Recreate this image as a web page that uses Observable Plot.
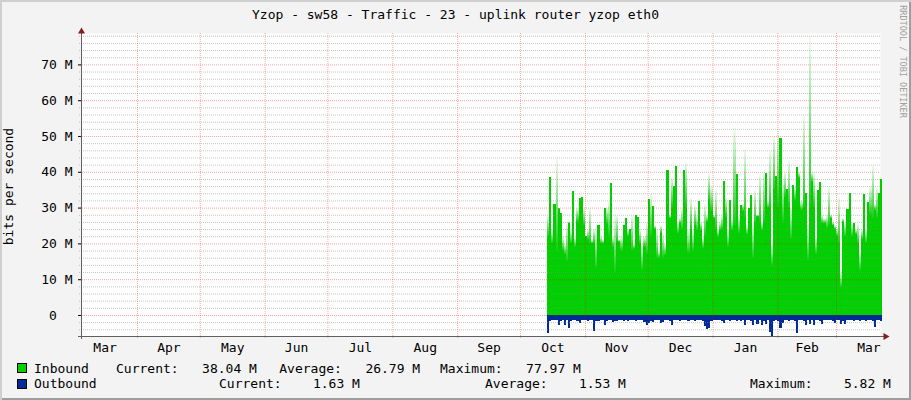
<!DOCTYPE html>
<html><head><meta charset="utf-8">
<script src="https://cdn.jsdelivr.net/npm/d3@7"></script>
<script src="https://cdn.jsdelivr.net/npm/@observablehq/plot@0.6"></script>
<style>
html,body{margin:0;padding:0;background:#fff}
#wrap{position:relative;width:911px;height:400px;background:#f3f3f3;box-shadow:inset 2px 2px 0 #cfcfcf, inset -2px -2px 0 #9e9e9e;font-family:"DejaVu Sans Mono",monospace;font-size:13px;color:#000;overflow:hidden}
.t{position:absolute;white-space:pre;line-height:13px;height:13px}
.box{position:absolute;width:8px;height:8px;border:1px solid #000}
#plot{position:absolute;left:0;top:0}
</style></head><body><div id="wrap"><div id="plot"></div></div>
<script>
// ---- data (Mbit/s), one value per day starting 2008-10-14 ----
const startDay = "2008-10-14";
const inboundSolid = [
22,38.6,20,31,18,29.7,28.5,18,17,15,
25.7,20,34.5,19,26,32.7,33,25,22,21,
20,20,20,13,25,20,20,30,25.5,22,
37,19,12,20.5,20.5,18,25,27,22,24,
18,18.5,27.8,27.5,20,12.6,19,17,32.4,22,
30.5,24,16,16,22.8,16,16.7,40.5,27,30,
35.9,41.6,22.8,25.6,24,40.6,30,17.4,23.7,18,
25,23.7,31.8,23.7,18.6,22,26,32,29,27,
24,21.9,23.7,24,37.5,27.5,19,32,23.7,25,
39.3,22.8,30.6,29,27,22.5,30,33.4,16,25.6,
27.5,26,23.7,26,39.7,30,30,14,34.9,38.8,
30,49.4,26.1,33,35.2,30,21.2,36.3,32,41.4,
38.2,29.3,30,34.1,15.4,30,37.2,30,17,34.9,
37.1,25.6,25.6,24.3,25,27,25,24,22,20,
7.8,26,22,29.7,34,22,25.6,22.6,20,12.4,
21.1,33.8,20.2,31.6,28,27,29.3,27,34,38.04];
const inboundPeak = [
28,38.6,24,31,44,30,28.5,22,20,26,
26,24,34.5,22,30,32.7,33,30,22,24,
30,21,24,24,25,22,21,30,30,32,
37,22,28,28,21,22,25,27,24,24,
28,20,27.8,27.5,24,20,22,26,32.4,34,
30.5,25,24,18,25,23,20,40.5,28,38.6,
35.9,41.6,26,27,30,40.6,42.7,24,32.7,24,
30.6,28,31.8,26,22,31,28,39.5,36,28,
35,24,26,28,37.5,33,24,32,27,52.1,
39.3,28,30.6,31,46.5,25,30,33.4,26,35,
28,39.5,26,40.4,39.7,32,46,20,49.8,38.8,
50.7,49.4,38,40,35.2,43.3,30,36.3,36,41.4,
40,32,55.9,34.1,25,77.97,40,40,22,34.9,
37.1,28,27,28,36,28,26,25,24,33,
12,27,26,29.7,34,26,25.6,24,25.6,18,
24,33.8,24,31.6,36,42,31,35.8,34,38.04];
const outbound = [
5.1,1.8,1.4,1.3,1.5,2.8,1.6,1.4,2.8,1.5,
3.7,1.6,1.4,1.3,1.6,2.2,1.5,1.3,1.4,1.8,
1.4,1.3,4.5,1.8,1.6,1.3,1.4,2.8,1.6,1.3,
1.5,1.9,1.8,1.6,1.3,1.4,1.7,1.5,1.6,1.4,
1.5,1.3,1.6,1.4,1.3,1.5,1.9,2.8,2.1,1.6,
2.0,1.4,1.5,1.3,2.3,2.0,1.4,1.5,1.6,2.8,
1.5,1.4,1.5,1.6,1.3,1.5,1.4,1.6,1.5,1.4,
1.6,1.4,1.5,1.3,1.7,3.2,4.0,3.6,1.6,1.4,
1.5,1.5,1.4,1.6,2.3,1.5,1.4,1.6,1.3,1.5,
1.6,1.4,1.7,1.5,2.8,1.5,1.4,1.6,2.8,1.5,
2.6,1.5,2.8,1.6,2.4,1.5,4.7,5.82,1.6,1.5,
1.6,3.7,2.3,1.5,1.4,1.6,1.5,1.4,1.6,5.1,
1.5,1.4,1.6,2.8,1.5,2.6,1.4,2.8,1.5,1.4,
1.6,2.6,1.5,1.4,1.5,1.4,1.6,2.3,1.5,1.4,
2.6,1.6,2.6,1.5,1.4,1.5,1.6,1.4,1.5,1.6,
1.4,1.5,1.6,1.5,1.4,1.6,3.3,1.5,1.4,1.63];

const monthLabels = ["Mar","Apr","May","Jun","Jul","Aug","Sep","Oct","Nov","Dec","Jan","Feb","Mar"];
const yTickValues = [0,10,20,30,40,50,60,70];
const yTickLabels = ["0\u00a0\u00a0","10 M","20 M","30 M","40 M","50 M","60 M","70 M"];

const legendRows = [
  {name:"Inbound", color:"#00cf00", cur:"Current:   38.04 M", avg:"Average:   26.79 M", max:"Maximum:   77.97 M"},
  {name:"Outbound", color:"#002a97", cur:"Current:    1.63 M", avg:"Average:    1.53 M", max:"Maximum:    5.82 M"}
];

// ---- build table ----
const M = 1e6;
const d0 = new Date(startDay + "T00:00:00Z");
const table = inboundSolid.map((v, i) => ({
  x1: d3.utcDay.offset(d0, i),
  x2: d3.utcDay.offset(d0, i + 1),
  inS: v * M,
  inP: Math.max(v, inboundPeak[i]) * M,
  out: -outbound[i] * M
}));

const xDomain = [new Date(Date.UTC(2008,2,5,6)), new Date(Date.UTC(2009,2,22,0,30))];
const yDomain = [-5.87 * M, 78.77 * M];

const monthStarts = d3.utcMonth.range(new Date(Date.UTC(2008,2,1)), new Date(Date.UTC(2009,3,1)));
const midDates = monthStarts.map(m => new Date((+m + +d3.utcMonth.offset(m, 1)) / 2));
const gridMonths = monthStarts.filter(m => m > xDomain[0] && m < xDomain[1]);
const majorGrid = yTickValues.map(v => v * M);
const minorGrid = d3.range(-4, 79, 2).filter(v => v % 10 !== 0).map(v => v * M);

const svg = Plot.plot({
  width: 911, height: 360,
  marginLeft: 81, marginRight: 31, marginTop: 33, marginBottom: 24,
  style: {background: "transparent", overflow: "visible", fontFamily: "'DejaVu Sans Mono', monospace", fontSize: "13px", color: "#000"},
  x: {type: "utc", domain: xDomain, ticks: midDates,
      tickFormat: d => monthLabels[midDates.findIndex(m => +m === +d)],
      tickSize: 0, tickPadding: 6, label: null},
  y: {domain: yDomain, ticks: majorGrid,
      tickFormat: d => yTickLabels[yTickValues.indexOf(Math.round(d / M))],
      tickSize: 3, tickPadding: 6, label: null},
  marks: [
    Plot.frame({fill: "white", stroke: "none"}),
    Plot.rect(table, {x1: "x1", x2: "x2", y1: 0, y2: "inS", fill: "#00cf00", shapeRendering: "crispEdges"}),
    Plot.rect(table, {x1: "x1", x2: "x2", y1: "inS", y2: "inP", fill: "url(#fadeG)", shapeRendering: "crispEdges"}),
    Plot.rect(table, {x1: "x1", x2: "x2", y1: 0, y2: "out", fill: "#002a97", shapeRendering: "crispEdges"}),
    Plot.ruleY(minorGrid, {stroke: "#8c8c8c", strokeOpacity: 0.5, strokeDasharray: "1,1", insetLeft: -2}),
    Plot.ruleY(majorGrid, {stroke: "#ff0000", strokeOpacity: 0.35, strokeDasharray: "1,1", insetLeft: -3}),
    Plot.ruleX(gridMonths, {stroke: "#ff0000", strokeOpacity: 0.35, strokeDasharray: "1,1", insetBottom: -3}),
    Plot.ruleX([xDomain[0]], {stroke: "#606060", insetTop: -3, insetBottom: -3}),
    Plot.ruleY([yDomain[0]], {stroke: "#606060", insetLeft: -3, insetRight: -4}),
    Plot.dot([{x: xDomain[0], y: yDomain[1]}], {x: "x", y: "y", symbol: "triangle", r: 2.6, fill: "#7f1f1f", stroke: "none", dy: -2}),
    Plot.dot([{x: xDomain[1], y: yDomain[0]}], {x: "x", y: "y", symbol: "triangle", r: 2.6, fill: "#7f1f1f", stroke: "none", rotate: 90, dx: 5})
  ]
});

// gradient for the anti-aliased spike tops
const NS = "http://www.w3.org/2000/svg";
const defs = document.createElementNS(NS, "defs");
const lg = document.createElementNS(NS, "linearGradient");
lg.setAttribute("id", "fadeG");
lg.setAttribute("x1", "0"); lg.setAttribute("y1", "0"); lg.setAttribute("x2", "0"); lg.setAttribute("y2", "1");
[["0", "#f4fcf4"], ["0.45", "#8fe48f"], ["1", "#10d010"]].forEach(([o, c]) => {
  const s = document.createElementNS(NS, "stop");
  s.setAttribute("offset", o); s.setAttribute("stop-color", c);
  lg.appendChild(s);
});
defs.appendChild(lg);
svg.insertBefore(defs, svg.firstChild);
document.getElementById("plot").appendChild(svg);

// ---- title, labels, legend ----
const wrap = document.getElementById("wrap");
function addText(txt, css) {
  const d = document.createElement("div");
  d.className = "t";
  d.textContent = txt;
  Object.assign(d.style, css);
  wrap.appendChild(d);
  return d;
}
addText("Yzop - sw58 - Traffic - 23 - uplink router yzop eth0", {left: "0px", width: "911px", top: "7.7px", textAlign: "center"});
addText("bits per second", {left: "-92px", width: "200px", top: "179.5px", textAlign: "center", transform: "rotate(-90deg)"});
addText("RRDTOOL / TOBI OETIKER", {left: "842.5px", width: "120px", top: "60.75px", fontSize: "8.5px", lineHeight: "8.5px", height: "8.5px", color: "#a0a0a0", transform: "rotate(90deg)"});

const rowTops = [361.7, 377];
const cols = [[116, 279.3, 440], [219, 485, 750]];
legendRows.forEach((r, k) => {
  const b = document.createElement("div");
  b.className = "box";
  Object.assign(b.style, {left: "17px", top: (rowTops[k] + 1.5) + "px", background: r.color});
  wrap.appendChild(b);
  addText(r.name, {left: "34px", top: rowTops[k] + "px"});
  addText(r.cur, {left: cols[k][0] + "px", top: rowTops[k] + "px"});
  addText(r.avg, {left: cols[k][1] + "px", top: rowTops[k] + "px"});
  addText(r.max, {left: cols[k][2] + "px", top: rowTops[k] + "px"});
});
</script></body></html>
